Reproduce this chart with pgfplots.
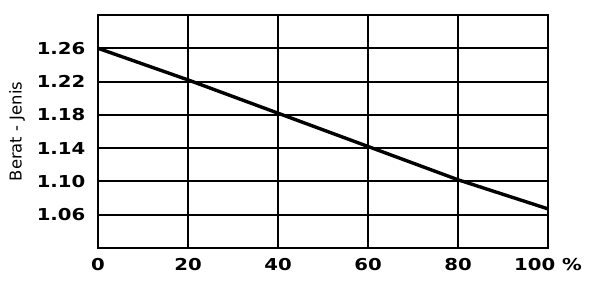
\documentclass[border=0pt]{standalone}
\usepackage{pgfplots}
\pgfplotsset{compat=1.18}
\usepackage{fontspec}
\setmainfont{DejaVu Sans}
\newfontfamily\tickfont[FakeStretch=1.2]{DejaVu Sans}
\begin{document}
\begin{tikzpicture}
\begin{axis}[name=ax,
  scale only axis, width=225pt, height=116.5pt,
  xmin=0, xmax=100, ymin=1.02, ymax=1.30,
  xtick={0,20,40,60,80,100},
  xticklabels={0,20,40,60,80,100 \%},
  ytick={1.06,1.10,1.14,1.18,1.22,1.26},
  yticklabels={1.06,1.10,1.14,1.18,1.22,1.26},
  major tick length=0pt,
  grid=major,
  major grid style={black, line width=1pt},
  axis line style={black, line width=1.2pt},
  tick label style={font=\tickfont\fontsize{8.2}{9}\selectfont\bfseries},
  xticklabel style={yshift=-1.8pt},
  yticklabel style={xshift=-2.8pt},
  ylabel={Berat - Jenis},
  ylabel style={font=\fontsize{8.2}{9}\selectfont, at={(axis description cs:-0.18,0.5)}, anchor=center},
]
\addplot[black, line width=1.7pt] coordinates {(0,1.26) (20,1.222) (40,1.182) (60,1.142) (80,1.102) (100,1.067)};
\end{axis}
\path[use as bounding box] ([xshift=-49pt,yshift=-21.5pt]ax.south west) rectangle ([xshift=29.5pt,yshift=7.5pt]ax.north east);
\end{tikzpicture}
\end{document}
